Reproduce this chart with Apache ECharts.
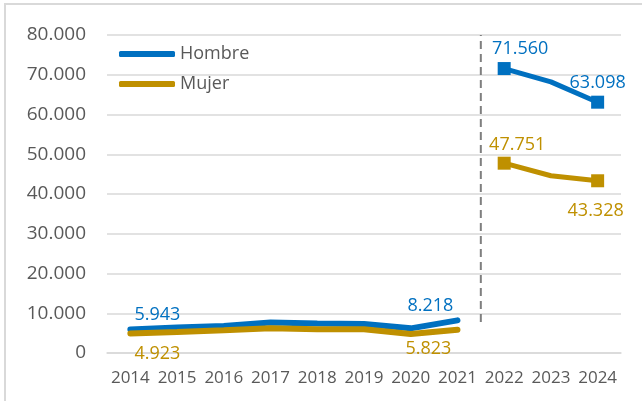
<!DOCTYPE html>
<html>
<head>
<meta charset="utf-8">
<script src="https://cdn.jsdelivr.net/npm/echarts@6/dist/echarts.min.js"></script>
<style>
  html, body { margin: 0; padding: 0; background: #fff; }
  #chart { width: 642px; height: 401px; }
</style>
</head>
<body>
<div id="chart"></div>
<script>
// años
const years = ["2014", "2015", "2016", "2017", "2018", "2019", "2020", "2021", "2022", "2023", "2024"];
// serie histórica 2014-2021
const hombreHist = [5943, 6400, 6800, 7700, 7400, 7300, 6200, 8218];
const mujerHist = [4923, 5300, 5700, 6200, 6000, 6000, 4800, 5823];
// proyección 2022-2024
const hombreProj = [71560, 68200, 63098];
const mujerProj = [47751, 44600, 43328];
// separador entre 2021 y 2022
const dividerAt = 7.5;
const dividerRange = [7800, 80000];

const BLUE = "#0070C0";
const GOLD = "#BF9000";
const FONT = "Open Sans";

const fmt = v => String(Math.round(v)).replace(/\B(?=(\d{3})+(?!\d))/g, ".");

// etiqueta de un punto
const lbl = (value, color, position, offset) => ({
  value,
  label: {
    show: true,
    position,
    offset,
    color,
    fontFamily: FONT,
    fontSize: 18,
    formatter: p => fmt(p.value)
  }
});

function histData(arr, color, first, last) {
  return arr.map((v, i) => {
    if (i === 0) return lbl(v, color, first[0], first[1]);
    if (i === arr.length - 1) return lbl(v, color, last[0], last[1]);
    return v;
  });
}

function projData(arr, color, first, last) {
  const pad = Array(hombreHist.length).fill("-");
  const items = arr.map((v, i) => {
    if (i === 0) return lbl(v, color, first[0], first[1]);
    if (i === arr.length - 1) return lbl(v, color, last[0], last[1]);
    return { value: v, symbol: "none" };
  });
  return pad.concat(items);
}

const chart = echarts.init(document.getElementById("chart"));

chart.setOption({
  animation: false,
  textStyle: { fontFamily: FONT },
  graphic: [
    {
      type: "rect",
      shape: { x: 5, y: 4, width: 700, height: 500 },
      style: { fill: "none", stroke: "#D9D9D9", lineWidth: 2 },
      silent: true
    }
  ],
  legend: {
    data: ["Hombre", "Mujer"],
    orient: "vertical",
    left: 114,
    top: 40,
    itemWidth: 56,
    itemHeight: 6,
    itemGap: 12,
    icon: "roundRect",
    textStyle: { color: "#595959", fontSize: 18, fontFamily: FONT }
  },
  grid: { left: 107, right: 21, top: 35, bottom: 48 },
  xAxis: [
    {
      type: "category",
      data: years,
      boundaryGap: true,
      axisLine: { lineStyle: { color: "#D9D9D9", width: 1.5 } },
      axisTick: { show: false },
      axisLabel: { color: "#595959", fontSize: 17, fontFamily: FONT, margin: 17, interval: 0 }
    },
    {
      type: "value",
      show: false,
      min: -0.5,
      max: years.length - 0.5
    }
  ],
  yAxis: {
    type: "value",
    min: 0,
    max: 80000,
    interval: 10000,
    axisLine: { show: false },
    axisTick: { show: false },
    splitLine: { lineStyle: { color: "#D9D9D9", width: 1.5 } },
    axisLabel: {
      color: "#595959",
      fontSize: 19,
      fontFamily: FONT,
      margin: 21,
      formatter: v => fmt(v)
    }
  },
  series: [
    {
      name: "Hombre",
      type: "line",
      data: histData(hombreHist, BLUE, ["top", [27, 0]], ["top", [-27, 0]]),
      color: BLUE,
      symbol: "circle",
      symbolSize: 0.1,
      lineStyle: { width: 6, cap: "round" },
      z: 3
    },
    {
      name: "Mujer",
      type: "line",
      data: histData(mujerHist, GOLD, ["bottom", [27, 6]], ["bottom", [-29, 5]]),
      color: GOLD,
      symbol: "circle",
      symbolSize: 0.1,
      lineStyle: { width: 6, cap: "round" },
      z: 4
    },
    {
      name: "Hombre",
      type: "line",
      data: projData(hombreProj, BLUE, ["top", [16, 1]], ["top", [0, 1]]),
      color: BLUE,
      symbol: "rect",
      symbolSize: 13,
      lineStyle: { width: 5 },
      z: 3
    },
    {
      name: "Mujer",
      type: "line",
      data: projData(mujerProj, GOLD, ["top", [13, 2]], ["bottom", [-2, 10]]),
      color: GOLD,
      symbol: "rect",
      symbolSize: 13,
      lineStyle: { width: 5 },
      z: 4
    },
    {
      name: "divisor",
      type: "line",
      xAxisIndex: 1,
      data: dividerRange.map(v => [dividerAt, v]),
      symbol: "none",
      lineStyle: { color: "#7F7F7F", width: 2, type: [8, 5] },
      z: 2,
      silent: true
    }
  ]
});
</script>
</body>
</html>
